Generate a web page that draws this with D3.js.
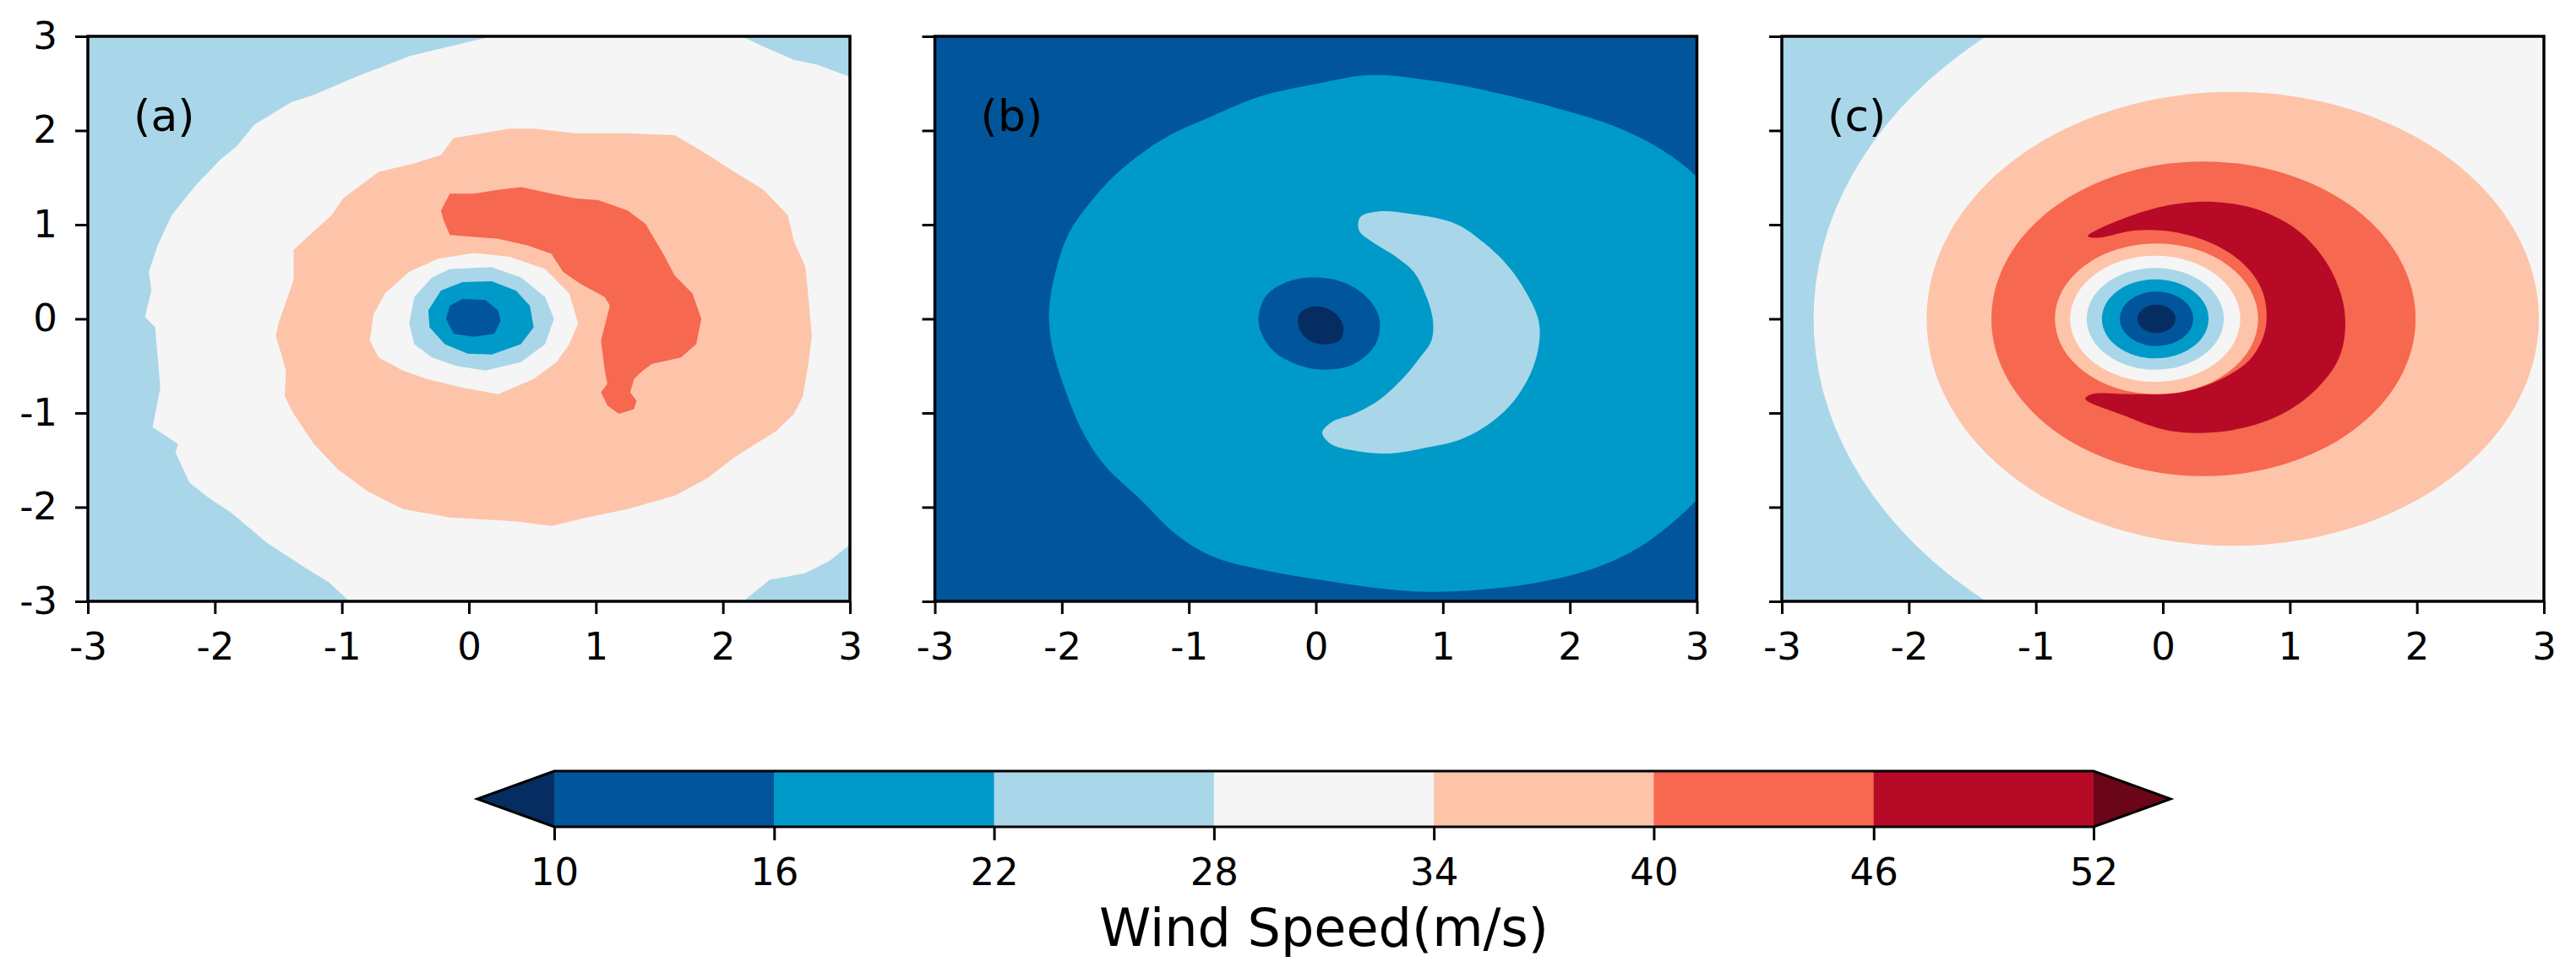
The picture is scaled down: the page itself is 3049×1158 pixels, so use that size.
<!DOCTYPE html>
<html>
<head>
<meta charset="utf-8">
<script src="https://d3js.org/d3.v7.min.js"></script>
<style>
  body { margin: 0; background: #fff; }
  text { font-family: "DejaVu Sans", sans-serif; fill: #000; }
</style>
</head>
<body>
<div id="chart"></div>
<script>

// contour levels (m/s) and fill colours (first / last are the extend arrows)
var levels = [10, 16, 22, 28, 34, 40, 46, 52];
var bandColors = ["#062d61", "#01559b", "#009ac8", "#a9d7e9", "#f5f5f5",
                  "#fdc4aa", "#f6684f", "#b70a26", "#6b0518"];
var axisTicks = [-3, -2, -1, 0, 1, 2, 3];
var panelNames = ["(a)", "(b)", "(c)"];
var cbarTitle = "Wind Speed(m/s)";

// ---- panel (a): filled regions, [x, y] in axis units
var a_background = 25;
var a_outer28 = [[0.18,3.0],[-0.47,2.79],[-0.6,2.72],[-0.89,2.57],[-1.22,2.38],[-1.4,2.3],[-1.69,2.06],
  [-1.83,1.83],[-1.95,1.7],[-2.15,1.42],[-2.34,1.10],[-2.45,0.78],[-2.52,0.50],[-2.5,0.3],[-2.55,0.02],
  [-2.47,-0.09],[-2.45,-0.41],[-2.43,-0.73],[-2.49,-1.15],[-2.29,-1.33],[-2.31,-1.42],[-2.20,-1.74],
  [-2.05,-1.9],[-1.87,-2.06],[-1.59,-2.38],[-1.27,-2.66],[-1.1,-2.8],[-0.94,-3.0],[2.16,-3.0],
  [2.37,-2.77],[2.5,-2.74],[2.65,-2.70],[2.84,-2.57],[3.0,-2.40],[3.0,2.57],[2.74,2.70],[2.56,2.75],
  [2.32,2.89],[2.18,2.98],[2.14,3.0]];
var a_ring34 = [[-0.12,1.92],[0.32,2.02],[0.51,2.02],[0.83,1.97],[1.21,1.97],[1.62,1.95],[1.86,1.76],
  [2.09,1.56],[2.32,1.37],[2.51,1.10],[2.56,0.82],[2.65,0.55],[2.67,0.27],[2.70,-0.18],[2.67,-0.50],
  [2.63,-0.82],[2.56,-1.01],[2.42,-1.19],[2.09,-1.47],[1.88,-1.69],[1.62,-1.88],[1.25,-2.02],
  [0.93,-2.11],[0.65,-2.20],[0.37,-2.15],[-0.15,-2.11],[-0.52,-2.02],[-0.80,-1.83],[-1.03,-1.60],
  [-1.22,-1.33],[-1.38,-1.01],[-1.45,-0.82],[-1.44,-0.55],[-1.52,-0.18],[-1.50,-0.05],[-1.38,0.41],
  [-1.38,0.73],[-1.27,0.87],[-1.08,1.10],[-0.99,1.28],[-0.71,1.56],[-0.43,1.65],[-0.22,1.74]];
var a_hook40 = [[-0.15,1.33],[0.04,1.33],[0.23,1.37],[0.41,1.40],[0.65,1.33],[0.83,1.28],[1.02,1.26],
  [1.25,1.15],[1.39,1.01],[1.53,0.69],[1.62,0.46],[1.76,0.27],[1.83,0.0],[1.79,-0.27],[1.67,-0.41],
  [1.44,-0.48],[1.37,-0.55],[1.30,-0.64],[1.27,-0.78],[1.32,-0.87],[1.30,-0.96],[1.18,-1.01],
  [1.09,-0.92],[1.04,-0.78],[1.09,-0.69],[1.07,-0.55],[1.04,-0.23],[1.11,0.14],[1.07,0.23],
  [0.88,0.37],[0.74,0.50],[0.65,0.69],[0.46,0.78],[0.23,0.85],[-0.15,0.89],[-0.20,1.05],[-0.22,1.15]];
var a_eye28 = [[-0.24,0.64],[0.04,0.70],[0.32,0.66],[0.60,0.53],[0.79,0.27],[0.86,-0.05],[0.79,-0.27],
  [0.69,-0.46],[0.51,-0.64],[0.23,-0.80],[-0.05,-0.73],[-0.33,-0.64],[-0.52,-0.55],[-0.71,-0.41],
  [-0.78,-0.23],[-0.75,0.05],[-0.66,0.27],[-0.47,0.50]];
var a_eye22 = [[-0.15,0.53],[0.18,0.55],[0.41,0.44],[0.60,0.23],[0.67,0.0],[0.60,-0.27],[0.41,-0.46],
  [0.13,-0.55],[-0.10,-0.50],[-0.29,-0.41],[-0.43,-0.27],[-0.47,-0.05],[-0.43,0.23],[-0.29,0.44]];
var a_eye16 = [[-0.05,0.39],[0.18,0.40],[0.37,0.30],[0.48,0.14],[0.51,-0.09],[0.41,-0.27],[0.18,-0.38],
  [-0.01,-0.37],[-0.19,-0.27],[-0.31,-0.09],[-0.32,0.09],[-0.22,0.30]];
var a_eye10 = [[-0.05,0.21],[0.13,0.20],[0.23,0.09],[0.25,-0.02],[0.20,-0.16],[0.04,-0.19],
  [-0.12,-0.16],[-0.18,0.0],[-0.15,0.14]];

// ---- panel (b)
var b_background = 13;
var b_outer16 = [[0.44,2.59],[0.96,2.52],[1.42,2.40],[1.89,2.24],[2.36,2.04],[2.73,1.79],[3.0,1.51],
  [3.2,1.2],[3.2,-1.6],[3.0,-1.92],[2.82,-2.15],[2.54,-2.43],[2.17,-2.66],[1.66,-2.82],[0.96,-2.90],
  [0.49,-2.86],[0.02,-2.77],[-0.44,-2.66],[-0.82,-2.52],[-1.10,-2.29],[-1.38,-1.92],[-1.66,-1.56],
  [-1.84,-1.19],[-1.98,-0.73],[-2.08,-0.27],[-2.10,0.09],[-2.05,0.50],[-1.94,0.92],[-1.75,1.28],
  [-1.52,1.60],[-1.19,1.92],[-0.82,2.15],[-0.44,2.36],[0.02,2.50]];
var b_crescent22 = [[0.49,1.14],[0.77,1.11],[1.10,1.01],[1.33,0.80],[1.52,0.55],[1.66,0.27],[1.75,0.0],
  [1.76,-0.23],[1.70,-0.55],[1.56,-0.87],[1.38,-1.10],[1.14,-1.28],[0.86,-1.37],[0.58,-1.43],
  [0.30,-1.40],[0.12,-1.33],[0.05,-1.21],[0.12,-1.10],[0.30,-1.01],[0.49,-0.87],[0.68,-0.64],
  [0.82,-0.41],[0.91,-0.23],[0.92,0.0],[0.86,0.27],[0.77,0.50],[0.63,0.66],[0.44,0.82],[0.34,0.94],
  [0.35,1.08]];
var b_eye10 = [[-0.02,0.44],[0.21,0.39],[0.40,0.23],[0.50,0.0],[0.47,-0.27],[0.30,-0.48],[0.07,-0.54],
  [-0.16,-0.48],[-0.35,-0.32],[-0.45,-0.05],[-0.40,0.23],[-0.23,0.39]];
var b_core = [[-0.02,0.13],[0.12,0.09],[0.21,-0.05],[0.20,-0.21],[0.09,-0.27],[-0.05,-0.23],
  [-0.13,-0.11],[-0.13,0.05]];

// ---- panel (c): near-circular bands as [centre x, centre y, radius, speed]
var c_background = 25;
var c_outerRings = [[1.24, 0.0, 3.99, 31], [0.55, 0.0, 2.41, 37], [0.32, 0.0, 1.67, 43]];
var c_crescent46 = [[-0.59,0.88],[-0.34,1.05],[0.06,1.21],[0.42,1.24],[0.77,1.15],[1.08,0.92],
  [1.31,0.55],[1.43,0.09],[1.40,-0.37],[1.22,-0.73],[0.91,-1.03],[0.51,-1.19],[0.06,-1.19],
  [-0.34,-1.01],[-0.61,-0.85],[-0.56,-0.80],[-0.21,-0.80],[0.15,-0.78],[0.46,-0.64],[0.70,-0.41],
  [0.81,-0.09],[0.79,0.27],[0.66,0.55],[0.42,0.78],[0.10,0.92],[-0.21,0.94],[-0.52,0.86]];
var c_innerRings = [[-0.05, 0.0, 0.80, 37], [-0.06, 0.0, 0.67, 31], [-0.06, 0.0, 0.54, 25],
  [-0.06, 0.0, 0.42, 19], [-0.05, 0.0, 0.29, 13], [-0.05, 0.0, 0.15, 7]];

// layers per panel, drawn in order
var panels = [
  { name: panelNames[0], bg: a_background, labelY: true, layers: [
      {pts: a_outer28, v: 31}, {pts: a_ring34, v: 37}, {pts: a_hook40, v: 43},
      {pts: a_eye28, v: 31}, {pts: a_eye22, v: 25}, {pts: a_eye16, v: 19}, {pts: a_eye10, v: 13}],
    curve: d3.curveLinearClosed },
  { name: panelNames[1], bg: b_background, labelY: false, layers: [
      {pts: b_outer16, v: 19}, {pts: b_crescent22, v: 25}, {pts: b_eye10, v: 13}, {pts: b_core, v: 7}],
    curve: d3.curveCatmullRomClosed },
  { name: panelNames[2], bg: c_background, labelY: false, layers: []
      .concat(c_outerRings.map(function(r) { return {ring: r, v: r[3]}; }))
      .concat([{pts: c_crescent46, v: 49}])
      .concat(c_innerRings.map(function(r) { return {ring: r, v: r[3]}; })),
    curve: d3.curveCatmullRomClosed }
];

var color = d3.scaleThreshold().domain(levels).range(bandColors);

var W = 3049, H = 1158;
var panelW = 902, panelH = 669, panelTop = 43, panelLeft = 104, panelStep = 1002.5;

var svg = d3.select("#chart").append("svg")
    .attr("width", W)
    .attr("height", H);

var x = d3.scaleLinear().domain([-3, 3]).range([0, panelW]);
var y = d3.scaleLinear().domain([-3, 3]).range([panelH, 0]);

panels.forEach(function(p, i) {
  var g = svg.append("g")
      .attr("transform", "translate(" + (panelLeft + i * panelStep) + "," + panelTop + ")");

  g.append("clipPath").attr("id", "clip" + i)
    .append("rect").attr("width", panelW).attr("height", panelH);

  var body = g.append("g").attr("clip-path", "url(#clip" + i + ")");
  body.append("rect")
      .attr("width", panelW).attr("height", panelH)
      .style("fill", color(p.bg));

  var line = d3.line()
      .x(function(d) { return x(d[0]); })
      .y(function(d) { return y(d[1]); })
      .curve(p.curve);

  p.layers.forEach(function(l) {
    if (l.ring) {
      body.append("ellipse")
          .attr("cx", x(l.ring[0])).attr("cy", y(l.ring[1]))
          .attr("rx", x(l.ring[2]) - x(0)).attr("ry", y(0) - y(l.ring[2]))
          .style("fill", color(l.v));
    } else {
      body.append("path")
          .attr("d", line(l.pts))
          .style("fill", color(l.v));
    }
  });

  // axes
  var xa = g.append("g")
      .attr("transform", "translate(0," + panelH + ")")
      .call(d3.axisBottom(x).tickValues(axisTicks).tickFormat(function(d) { return String(d); })
            .tickSize(15).tickPadding(22));
  var ya = g.append("g")
      .call(d3.axisLeft(y).tickValues(axisTicks)
            .tickFormat(function(d) { return p.labelY ? String(d) : ""; })
            .tickSize(15).tickPadding(21));
  [xa, ya].forEach(function(a) {
    a.select(".domain").remove();
    a.selectAll(".tick line").attr("stroke", "#000").attr("stroke-width", 3);
    a.selectAll(".tick text").style("font-size", "45px").style("font-family", "DejaVu Sans");
  });

  g.append("rect")
      .attr("width", panelW).attr("height", panelH)
      .style("fill", "none").style("stroke", "#000").style("stroke-width", 3.5);

  g.append("text")
      .attr("x", x(-2.64)).attr("y", y(2.0))
      .style("font-size", "52px")
      .text(p.name);
});

// ---- colour bar
var cbLeft = 656, cbRight = 2478, cbTop = 913, cbH = 66, extendFrac = 0.05;
var cx = d3.scaleLinear().domain([levels[0], levels[levels.length - 1]]).range([cbLeft, cbRight]);
var ext = extendFrac * (levels[levels.length - 1] - levels[0]);
var cb = svg.append("g");

cb.selectAll("rect.bin")
  .data(d3.pairs(levels))
  .enter().append("rect")
    .attr("class", "bin")
    .attr("x", function(d) { return cx(d[0]); })
    .attr("y", cbTop)
    .attr("width", function(d) { return cx(d[1]) - cx(d[0]) + 0.5; })
    .attr("height", cbH)
    .style("fill", function(d) { return color((d[0] + d[1]) / 2); });

var lo = levels[0], hi = levels[levels.length - 1];
cb.append("path")
    .attr("d", "M" + cx(lo) + "," + cbTop + "L" + cx(lo - ext) + "," + (cbTop + cbH / 2) +
               "L" + cx(lo) + "," + (cbTop + cbH) + "Z")
    .style("fill", color(lo - 1));
cb.append("path")
    .attr("d", "M" + cx(hi) + "," + cbTop + "L" + cx(hi + ext) + "," + (cbTop + cbH / 2) +
               "L" + cx(hi) + "," + (cbTop + cbH) + "Z")
    .style("fill", color(hi + 1));
cb.append("path")
    .attr("d", "M" + cx(lo) + "," + cbTop + "L" + cx(hi) + "," + cbTop +
               "L" + cx(hi + ext) + "," + (cbTop + cbH / 2) + "L" + cx(hi) + "," + (cbTop + cbH) +
               "L" + cx(lo) + "," + (cbTop + cbH) + "L" + cx(lo - ext) + "," + (cbTop + cbH / 2) + "Z")
    .style("fill", "none").style("stroke", "#000").style("stroke-width", 3)
    .style("stroke-linejoin", "miter");

var cba = cb.append("g")
    .attr("transform", "translate(0," + (cbTop + cbH) + ")")
    .call(d3.axisBottom(cx).tickValues(levels).tickFormat(d3.format("d")).tickSize(16).tickPadding(21));
cba.select(".domain").remove();
cba.selectAll(".tick line").attr("stroke", "#000").attr("stroke-width", 3);
cba.selectAll(".tick text").style("font-size", "45px").style("font-family", "DejaVu Sans");

cb.append("text")
    .attr("x", (cbLeft + cbRight) / 2)
    .attr("y", 1120)
    .attr("text-anchor", "middle")
    .style("font-size", "62px")
    .text(cbarTitle);

</script>
</body>
</html>
